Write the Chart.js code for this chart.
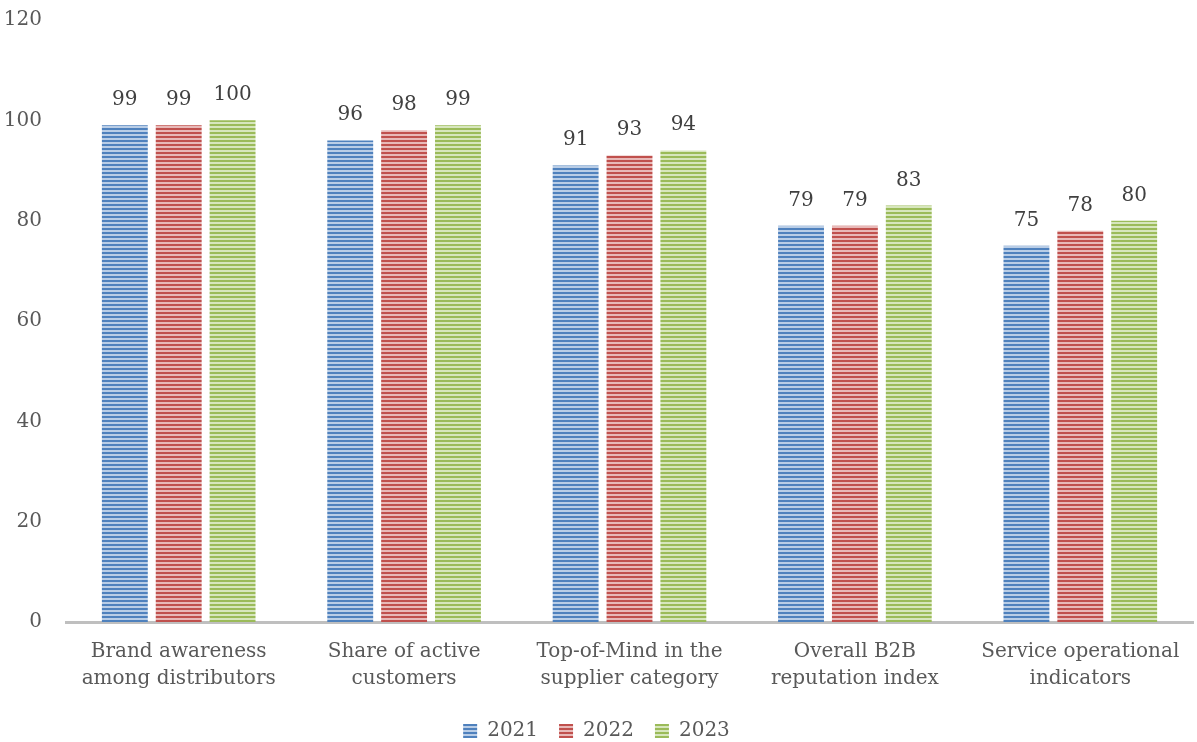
<!DOCTYPE html>
<html>
<head>
<meta charset="utf-8">
<script src="https://cdn.jsdelivr.net/npm/chart.js@4.4.0/dist/chart.umd.min.js"></script>
<style>
  html, body { margin: 0; padding: 0; background: #fff; }
  #wrap { width: 1197px; height: 742px; }
</style>
</head>
<body>
<div id="wrap"><canvas id="chart" width="1197" height="742"></canvas></div>
<script>
const categories = [
    ['Brand awareness', 'among distributors'],
    ['Share of active', 'customers'],
    ['Top-of-Mind in the', 'supplier category'],
    ['Overall B2B', 'reputation index'],
    ['Service operational', 'indicators']
];
const years = ['2021', '2022', '2023'];
const values2021 = [99, 96, 91, 79, 75];
const values2022 = [99, 98, 93, 79, 78];
const values2023 = [100, 99, 94, 83, 80];

// striped fill like the office "horizontal lines" pattern
function stripes(base, light) {
    const c = document.createElement('canvas');
    c.width = 4;
    c.height = 4;
    const g = c.getContext('2d');
    g.fillStyle = base;
    g.fillRect(0, 0, 4, 4);
    g.fillStyle = light;
    g.fillRect(0, 2, 4, 2);
    return g.createPattern(c, 'repeat');
}

const blue = stripes('#4f81bd', '#b9cde6');
const red = stripes('#c0504d', '#e8b9b8');
const green = stripes('#9bbb59', '#d7e6bd');

const textColor = '#595959';
const fontFamily = '"DejaVu Serif", serif';

const valueLabels = {
    id: 'valueLabels',
    afterDatasetsDraw(chart) {
        const ctx = chart.ctx;
        ctx.save();
        ctx.font = '20px ' + fontFamily;
        ctx.fillStyle = '#404040';
        ctx.textAlign = 'center';
        ctx.textBaseline = 'alphabetic';
        chart.data.datasets.forEach((ds, i) => {
            chart.getDatasetMeta(i).data.forEach((bar, j) => {
                ctx.fillText(ds.data[j], bar.x, bar.y - 20);
            });
        });
        ctx.restore();
    }
};

const ctx = document.getElementById('chart').getContext('2d');
new Chart(ctx, {
    type: 'bar',
    data: {
        labels: categories,
        datasets: [
            { label: years[0], data: values2021, backgroundColor: blue },
            { label: years[1], data: values2022, backgroundColor: red },
            { label: years[2], data: values2023, backgroundColor: green }
        ]
    },
    options: {
        responsive: false,
        animation: false,
        layout: { padding: { top: 0, right: 4, left: 0, bottom: -9 } },
        datasets: {
            bar: { categoryPercentage: 0.717, barPercentage: 0.852 }
        },
        plugins: {
            tooltip: { enabled: false },
            legend: {
                position: 'bottom',
                labels: {
                    color: textColor,
                    font: { family: fontFamily, size: 20 },
                    boxWidth: 14,
                    boxHeight: 14,
                    padding: 21
                }
            }
        },
        scales: {
            x: {
                grid: { display: false },
                border: { color: '#bfbfbf', width: 3 },
                ticks: {
                    color: textColor,
                    font: { family: fontFamily, size: 20, lineHeight: 1.35 },
                    maxRotation: 0,
                    padding: 8
                }
            },
            y: {
                min: 0,
                max: 120,
                afterFit(scale) {
                    scale.width = 66;
                    scale.paddingTop = 20;
                },
                grid: { display: false },
                border: { display: false },
                ticks: {
                    stepSize: 20,
                    color: textColor,
                    font: { family: fontFamily, size: 20 },
                    padding: 16
                }
            }
        }
    },
    plugins: [valueLabels]
});
</script>
</body>
</html>
